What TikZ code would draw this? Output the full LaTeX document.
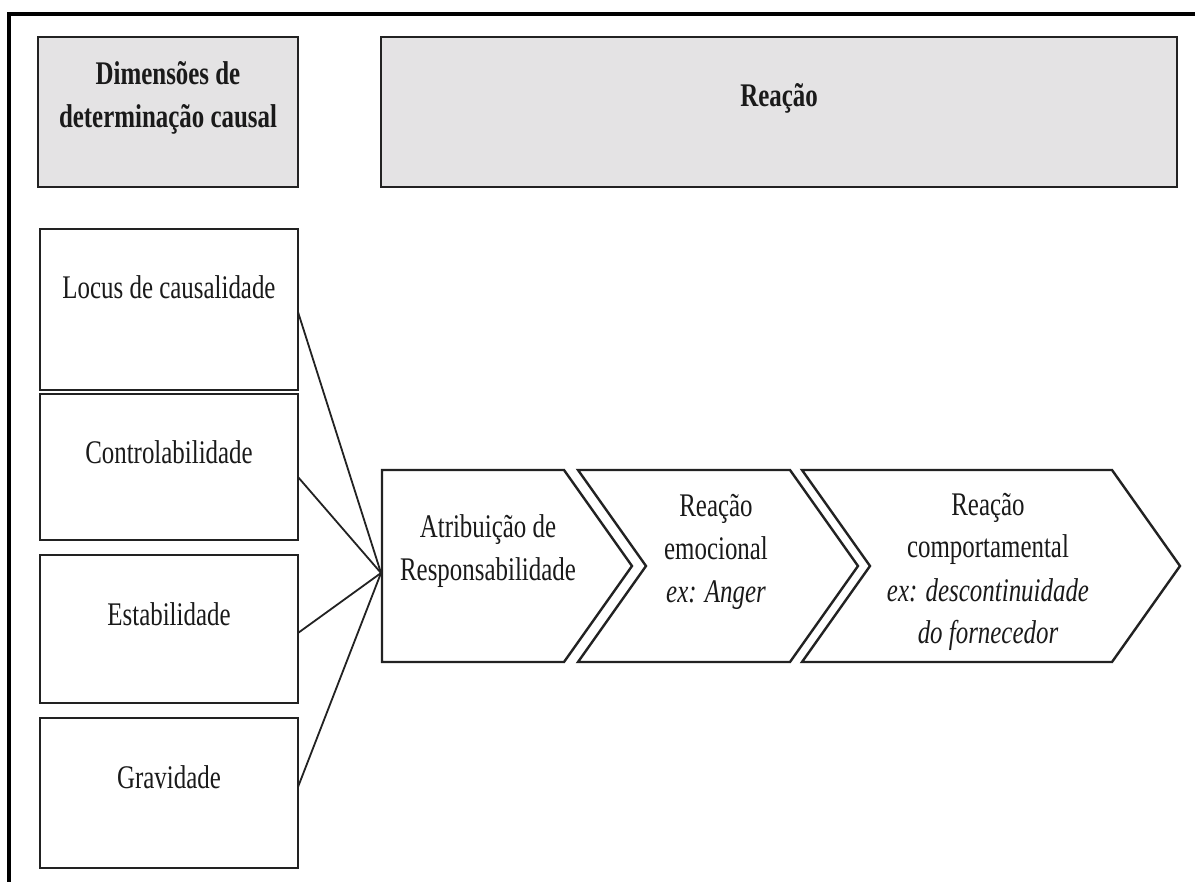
\documentclass[tikz,border=0pt]{standalone}
\usepackage{fontspec}
\setmainfont{Liberation Serif}[FakeStretch=0.755]
\usetikzlibrary{calc}
\definecolor{hdrfill}{HTML}{E4E3E4}
\definecolor{boxc}{HTML}{222222}
\definecolor{txtc}{HTML}{1A1A1A}
\newcommand{\mlines}[1]{\begin{tabular}[t]{@{}c@{}}#1\end{tabular}}
\begin{document}
\begin{tikzpicture}[x=1pt,y=-1pt,
  every node/.style={inner sep=0pt, outer sep=0pt},
  txt/.style={font=\fontsize{33}{43}\selectfont, text=txtc, anchor=base},
  btxt/.style={font=\fontsize{33}{43}\selectfont\bfseries, text=txtc, anchor=base},
  hdrbox/.style={rectangle, draw=boxc, line width=2.6pt, fill=hdrfill},
  dimbox/.style={rectangle, draw=boxc, line width=2.4pt, fill=white, minimum width=258pt},
  chev/.style={draw=boxc, line width=2.4pt, fill=white, line join=miter},
  conn/.style={draw=boxc, line width=1.8pt},
  frame/.style={draw=black, line width=4.5pt, line join=miter}]
\useasboundingbox (0,0) rectangle (1195,882);
\fill[white] (0,0) rectangle (1195,882);
\draw[frame] (9,882) -- (9,14) -- (1195,14);

% header boxes
\node[hdrbox, minimum width=260pt, minimum height=150pt] (hdr1) at (168,112) {};
\node[hdrbox, minimum width=796pt, minimum height=150pt] (hdr2) at (779,112) {};
\node[btxt] (hdr1T) at (168,85) {\mlines{Dimensões de\\determinação causal}};
\node[btxt] (hdr2T) at (779,107) {Reação};

% dimension boxes
\node[dimbox, minimum height=161pt] (locus) at (169,309.5) {};
\node[dimbox, minimum height=146pt] (ctrl) at (169,467) {};
\node[dimbox, minimum height=148pt] (estab) at (169,629) {};
\node[dimbox, minimum height=150pt] (grav) at (169,793) {};
\node[txt] (locusT) at (169,299) {Locus de causalidade};
\node[txt] (ctrlT) at (169,464) {Controlabilidade};
\node[txt] (estabT) at (169,625) {Estabilidade};
\node[txt] (gravT) at (169,788) {Gravidade};

% chevrons
\draw[chev] (382,470) -- (564,470) -- (632,566) -- (564,662) -- (382,662) -- cycle;
\draw[chev] (578,470) -- (790,470) -- (858,566) -- (790,662) -- (578,662) -- (646,566) -- cycle;
\draw[chev] (802,470) -- (1112,470) -- (1180,566) -- (1112,662) -- (802,662) -- (870,566) -- cycle;
\coordinate (hub) at (381,573);

\node[txt] (c1T) at (488,538) {\mlines{Atribuição de\\Responsabilidade}};
\node[txt] (c2T) at (716,517) {\mlines{Reação\\emocional\\\itshape ex: Anger}};
\node[txt] (c3T) at (988,515) {\mlines{Reação\\comportamental\\\itshape ex: descontinuidade\\\itshape do fornecedor}};

% connectors
\draw[conn] ([yshift=-2.5pt]locus.east) -- (hub);
\draw[conn] ([yshift=-10pt]ctrl.east) -- (hub);
\draw[conn] ([yshift=-4pt]estab.east) -- (hub);
\draw[conn] ([yshift=6pt]grav.east) -- (hub);
\end{tikzpicture}
\end{document}
